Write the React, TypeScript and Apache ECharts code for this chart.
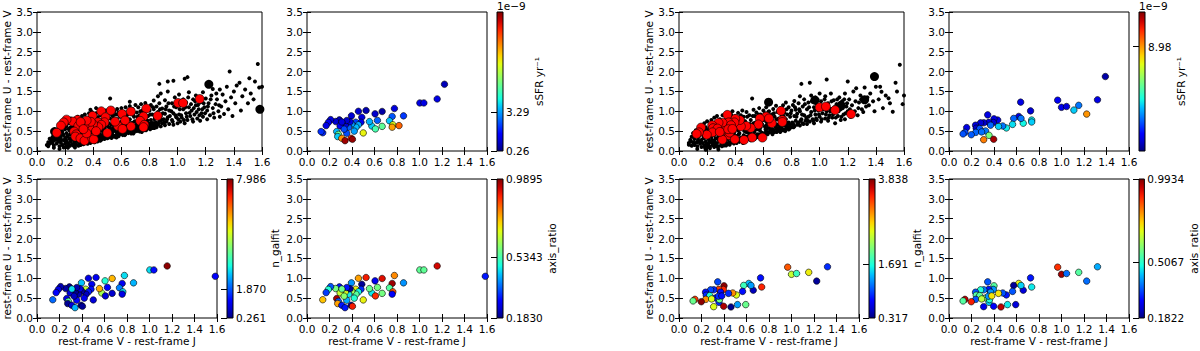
import React, { useEffect, useRef } from 'react';
import * as echarts from 'echarts';

// ---------- DATA ----------
// Sample galaxies, left half: [V-J, U-V, sSFR (1e-9/yr) | null, n_galfit | null, axis_ratio | null, highlighted (1) ]
const leftSample: (number | null)[][] = [
  [1.585, 1.05, null, 1.2, 0.30, 0],
  [1.157, 1.31, 1.3, 7.9, 0.93, 1],
  [1.003, 1.21, 1.3, 2.9, 0.56, 1],
  [1.039, 1.21, 1.3, 1.3, 0.56, 1],
  [0.858, 0.885, 2.2, 2.6, 0.40, 1],
  [0.777, 1.07, 1.2, 2.9, 0.80, 1],
  [0.757, 0.87, 2.5, 1.1, 0.97, 1],
  [0.733, 0.76, 3.7, 2.2, 0.55, 1],
  [0.763, 0.66, 7.0, 2.8, 0.85, 1],
  [0.757, 0.60, 8.3, 1.0, 0.28, 1],
  [0.668, 0.995, 0.6, 5.8, 0.92, 1],
  [0.668, 0.62, 5.3, 0.8, 0.58, 1],
  [0.605, 0.935, 1.0, 3.3, 0.27, 1],
  [0.626, 0.77, 2.6, 1.2, 0.58, 1],
  [0.576, 0.63, 3.8, 4.5, 0.47, 1],
  [0.608, 0.556, 5.0, 0.9, 0.88, 1],
  [0.555, 0.74, 3.5, 5.9, 0.57, 1],
  [0.525, 1.02, 0.7, 1.1, 0.90, 1],
  [0.457, 1.0, 1.0, 1.0, 0.78, 1],
  [0.50, 0.455, 7.2, 0.9, 0.70, 1],
  [0.395, 0.885, 1.1, 2.7, 0.40, 1],
  [0.487, 0.85, 1.2, 1.1, 0.20, 1],
  [0.48, 0.725, 1.4, 1.3, 0.32, 1],
  [0.433, 0.725, 2.3, 4.8, 0.70, 1],
  [0.457, 0.66, 3.4, 1.4, 0.48, 1],
  [0.436, 0.60, 3.6, 0.7, 0.55, 1],
  [0.398, 0.68, 3.2, 0.5, 0.62, 1],
  [0.371, 0.60, 2.6, 0.6, 0.47, 1],
  [0.341, 0.66, 1.3, 0.4, 0.68, 1],
  [0.383, 0.735, 1.2, 1.0, 0.20, 1],
  [0.353, 0.767, 1.0, 0.6, 0.30, 1],
  [0.309, 0.717, 1.1, 1.2, 0.55, 1],
  [0.288, 0.784, 0.8, 0.4, 0.30, 1],
  [0.255, 0.742, 1.0, 0.5, 0.58, 1],
  [0.294, 0.632, 1.5, 0.9, 0.66, 1],
  [0.31, 0.73, 1.2, 2.9, 0.57, 1],
  [0.264, 0.489, 3.6, 1.0, 0.96, 1],
  [0.279, 0.42, 5.4, 3.8, 0.35, 1],
  [0.273, 0.363, 3.8, 0.4, 0.78, 1],
  [0.309, 0.32, 8.5, 0.9, 0.30, 1],
  [0.338, 0.26, 10.8, 2.6, 0.30, 1],
  [0.392, 0.32, 9.8, 0.5, 0.22, 1],
  [0.404, 0.295, 10.9, 0.4, 0.90, 1],
  [0.21, 0.79, 1.2, 0.6, 0.35, 1],
  [0.19, 0.72, 1.4, 1.0, 0.50, 1],
  [0.17, 0.64, 1.3, 1.2, 0.33, 1],
  [0.14, 0.46, 2.0, 2.0, 0.75, 1],
  [0.353, 0.447, 2.4, 1.2, 0.42, 1],
  [0.42, 0.50, 3.3, 1.1, 0.50, 1],
  [0.33, 0.55, 2.4, 0.7, 0.60, 1],
  [1.222, 1.68, 0.8, null, null, 0],
  [0.818, 0.64, 9.0, null, null, 0],
  [0.125, 0.49, 2.1, null, null, 0],
];

const rightSample: (number | null)[][] = [
  [1.39, 1.875, 0.6, null, null, 0],
  [1.32, 1.29, 1.3, 0.9, 0.42, 0],
  [1.224, 0.93, 9.0, 0.4, 0.37, 1],
  [1.153, 1.15, 3.0, 2.6, 0.55, 0],
  [1.11, 1.03, 4.0, null, null, 1],
  [0.966, 1.28, 1.5, 3.2, 0.88, 0],
  [1.0, 1.10, 1.4, 2.4, 0.97, 1],
  [1.045, 1.12, 1.2, 1.8, 0.37, 1],
  [0.725, 1.01, 1.1, 0.8, 0.30, 1],
  [0.637, 1.23, 1.3, null, null, 0],
  [0.62, 0.87, 1.2, 1.4, 0.70, 1],
  [0.735, 0.78, 4.3, 3.4, 0.47, 1],
  [0.735, 0.73, 4.0, null, null, 1],
  [0.66, 0.70, 4.5, 0.5, 0.25, 1],
  [0.64, 0.82, 3.0, 1.3, 0.45, 1],
  [0.575, 0.82, 2.8, 1.8, 0.20, 1],
  [0.565, 0.67, 4.2, 0.8, 0.35, 1],
  [0.51, 0.58, 4.4, 2.5, 0.30, 1],
  [0.478, 0.63, 3.0, 3.0, 0.35, 1],
  [0.44, 0.62, 4.0, 0.9, 0.72, 1],
  [0.433, 0.78, 1.4, null, null, 1],
  [0.40, 0.81, 1.3, 3.8, 0.55, 1],
  [0.394, 0.72, 1.1, 3.4, 0.40, 1],
  [0.344, 0.91, 1.3, 1.0, 0.35, 1],
  [0.353, 0.72, 1.2, 3.3, 0.30, 1],
  [0.31, 0.71, 1.0, 0.9, 0.38, 1],
  [0.37, 0.65, 2.8, 0.8, 0.40, 1],
  [0.325, 0.505, 3.0, 0.8, 0.60, 1],
  [0.356, 0.395, 6.0, 0.9, 0.45, 1],
  [0.397, 0.295, 11.5, 3.7, 0.28, 1],
  [0.308, 0.285, 9.3, 2.5, 0.27, 1],
  [0.281, 0.71, 1.1, 1.0, 0.50, 1],
  [0.236, 0.65, 1.2, 0.8, 0.35, 1],
  [0.242, 0.575, 1.0, 0.9, 0.55, 1],
  [0.273, 0.565, 2.6, 1.7, 0.55, 1],
  [0.238, 0.47, 2.8, 3.0, 0.35, 1],
  [0.198, 0.41, 2.7, 3.8, 0.90, 1],
  [0.157, 0.59, 1.3, null, null, 1],
  [0.142, 0.47, 2.5, 3.3, 0.95, 1],
  [0.125, 0.43, 2.6, 2.0, 0.55, 1],
  [0.29, 0.48, 2.9, 2.5, 0.65, 1],
  [0.52, 0.337, null, 1.3, 0.47, 1],
  [0.593, 0.337, null, 2.0, 0.25, 1],
  [0.462, 0.278, null, 0.35, 0.95, 1],
  [0.36, 0.464, null, 2.0, 0.50, 1],
  [0.35, 0.548, null, 0.9, 0.40, 1],
  [0.38, 0.556, null, 0.8, 0.72, 1],
];

// Parent (field) population, left half: [V-J, U-V]
const leftField: number[][] = [
  [0.07,0.15],[0.08,0.22],[0.09,0.18],[0.09,0.31],[0.10,0.26],[0.08,0.12],
  [0.11,0.20],[0.11,0.35],[0.12,0.14],[0.12,0.42],[0.13,0.28],[0.13,0.50],[0.14,0.19],[0.14,0.37],[0.15,0.24],[0.15,0.55],[0.12,0.08],
  [0.16,0.12],[0.16,0.30],[0.16,0.44],[0.17,0.21],[0.17,0.58],[0.17,0.36],[0.18,0.15],[0.18,0.49],[0.18,0.67],[0.19,0.27],[0.19,0.40],[0.19,0.72],[0.20,0.18],[0.20,0.55],[0.20,0.33],[0.16,0.05],[0.19,0.09],
  [0.21,0.12],[0.21,0.26],[0.21,0.45],[0.21,0.63],[0.22,0.20],[0.22,0.38],[0.22,0.77],[0.23,0.15],[0.23,0.31],[0.23,0.52],[0.23,0.70],[0.24,0.24],[0.24,0.43],[0.24,0.60],[0.24,0.82],[0.25,0.17],[0.25,0.35],[0.25,0.50],[0.22,0.08],
  [0.26,0.13],[0.26,0.28],[0.26,0.45],[0.26,0.66],[0.27,0.21],[0.27,0.38],[0.27,0.57],[0.27,0.80],[0.28,0.16],[0.28,0.32],[0.28,0.50],[0.28,0.72],[0.29,0.25],[0.29,0.42],[0.29,0.62],[0.29,0.86],[0.30,0.19],[0.30,0.35],[0.30,0.54],[0.30,0.77],[0.27,0.09],
  [0.31,0.15],[0.31,0.28],[0.31,0.46],[0.31,0.68],[0.32,0.22],[0.32,0.40],[0.32,0.58],[0.32,0.88],[0.33,0.17],[0.33,0.33],[0.33,0.51],[0.33,0.75],[0.34,0.26],[0.34,0.44],[0.34,0.64],[0.34,0.92],[0.35,0.20],[0.35,0.37],[0.35,0.56],[0.35,0.82],
  [0.36,0.18],[0.36,0.30],[0.36,0.48],[0.36,0.70],[0.37,0.24],[0.37,0.41],[0.37,0.62],[0.37,0.95],[0.38,0.20],[0.38,0.35],[0.38,0.54],[0.38,0.86],[0.39,0.28],[0.39,0.45],[0.39,0.68],[0.39,0.98],[0.40,0.23],[0.40,0.38],[0.40,0.59],[0.40,0.90],[0.38,1.04],[0.42,1.08],
  [0.41,0.22],[0.41,0.33],[0.41,0.50],[0.41,0.76],[0.42,0.27],[0.42,0.44],[0.42,0.64],[0.42,0.95],[0.43,0.24],[0.43,0.37],[0.43,0.56],[0.43,0.85],[0.44,0.30],[0.44,0.48],[0.44,0.70],[0.44,1.00],[0.45,0.26],[0.45,0.41],[0.45,0.61],[0.45,0.90],
  [0.46,0.29],[0.46,0.36],[0.46,0.52],[0.46,0.78],[0.47,0.33],[0.47,0.46],[0.47,0.67],[0.47,0.97],[0.48,0.30],[0.48,0.41],[0.48,0.58],[0.48,0.88],[0.49,0.35],[0.49,0.50],[0.49,0.73],[0.49,1.02],[0.50,0.32],[0.50,0.63],
  [0.51,0.34],[0.51,0.45],[0.51,0.70],[0.51,0.95],[0.52,0.38],[0.52,0.55],[0.52,0.82],[0.52,1.32],[0.53,0.33],[0.53,0.48],[0.53,0.66],[0.53,1.04],[0.54,0.40],[0.54,0.58],[0.54,0.88],[0.55,0.36],[0.55,0.52],[0.55,0.75],[0.55,1.00],
  [0.56,0.39],[0.56,0.62],[0.56,0.92],[0.57,0.44],[0.57,0.55],[0.57,0.80],[0.57,1.06],[0.58,0.37],[0.58,0.50],[0.58,0.70],[0.58,0.97],[0.59,0.42],[0.59,0.60],[0.59,0.86],[0.60,0.46],[0.60,0.74],[0.60,1.08],
  [0.61,0.40],[0.61,0.55],[0.61,0.83],[0.62,0.47],[0.62,0.66],[0.62,0.98],[0.63,0.43],[0.63,0.58],[0.63,0.77],[0.63,1.10],[0.64,0.50],[0.64,0.70],[0.64,0.90],[0.65,0.45],[0.65,0.62],[0.65,1.02],
  [0.66,0.48],[0.66,0.80],[0.66,1.13],[0.67,0.44],[0.67,0.58],[0.67,0.94],[0.68,0.52],[0.68,0.71],[0.68,1.06],[0.69,0.47],[0.69,0.63],[0.69,0.86],[0.70,0.55],[0.70,1.16],[0.66,1.24],
  [0.71,0.50],[0.71,0.68],[0.71,0.97],[0.72,0.58],[0.72,0.80],[0.72,1.10],[0.73,0.49],[0.73,0.64],[0.73,0.90],[0.74,0.54],[0.74,0.75],[0.74,1.18],[0.75,0.60],[0.75,1.02],
  [0.76,0.52],[0.76,0.70],[0.76,0.95],[0.77,0.58],[0.77,0.82],[0.77,1.21],[0.78,0.55],[0.78,0.66],[0.78,1.12],[0.79,0.60],[0.79,0.88],[0.80,0.57],[0.80,1.02],
  [0.81,0.62],[0.81,0.78],[0.81,1.16],[0.82,0.58],[0.82,0.92],[0.83,0.70],[0.83,1.05],[0.83,1.27],[0.84,0.63],[0.84,0.85],[0.85,0.60],[0.85,1.12],
  [0.86,0.66],[0.86,0.98],[0.86,1.38],[0.87,0.75],[0.87,1.20],[0.88,0.62],[0.88,0.88],[0.88,1.45],[0.89,0.70],[0.89,1.07],[0.90,0.80],[0.87,1.69],
  [0.91,0.65],[0.91,0.94],[0.91,1.28],[0.92,0.74],[0.92,1.12],[0.93,0.85],[0.93,1.50],[0.94,0.68],[0.94,1.02],[0.93,1.75],
  [0.96,0.78],[0.96,1.20],[0.97,0.66],[0.97,0.95],[0.97,1.77],[0.98,1.35],[0.99,0.85],[0.99,1.10],[1.00,0.70],
  [1.01,0.92],[1.01,1.42],[1.02,0.74],[1.02,1.15],[1.03,0.84],[1.04,1.05],[1.04,1.30],[1.05,1.82],[1.05,0.70],
  [1.06,0.95],[1.06,1.22],[1.07,0.78],[1.07,1.86],[1.08,1.10],[1.08,1.48],[1.09,0.88],[1.10,1.02],
  [1.11,0.74],[1.11,1.30],[1.12,0.92],[1.13,1.15],[1.13,1.40],[1.14,0.82],[1.15,1.05],
  [1.16,0.76],[1.16,1.22],[1.17,0.95],[1.18,1.48],[1.18,0.86],[1.19,1.10],[1.20,1.32],
  [1.21,0.80],[1.21,1.02],[1.22,1.20],[1.23,0.90],[1.24,1.40],[1.25,1.56],[1.25,1.08],
  [1.26,0.84],[1.27,1.18],[1.28,1.30],[1.29,1.00],[1.30,1.55],[1.30,0.86],
  [1.31,1.12],[1.32,1.42],[1.33,0.93],[1.34,1.25],[1.35,1.62],[1.37,2.00],
  [1.36,1.05],[1.38,1.35],[1.39,0.88],[1.40,1.50],
  [1.41,1.20],[1.42,1.65],[1.44,1.72],[1.45,1.02],
  [1.46,1.38],[1.48,1.55],[1.50,1.20],
  [1.51,1.83],[1.52,1.45],[1.54,1.30],
  [1.55,1.75],[1.57,2.19],[1.58,1.60],[1.60,1.62],
  [0.085,0.20],[0.105,0.30],[0.115,0.25],[0.125,0.33],[0.135,0.40],[0.145,0.30],[0.155,0.38],[0.165,0.52],
  [0.175,0.28],[0.185,0.42],[0.195,0.62],[0.205,0.25],[0.215,0.36],[0.225,0.56],[0.235,0.42],[0.245,0.30],
  [0.255,0.62],[0.265,0.22],[0.275,0.48],[0.285,0.40],[0.295,0.70],[0.305,0.27],[0.315,0.52],[0.325,0.36],
  [0.335,0.62],[0.345,0.30],[0.355,0.48],[0.365,0.60],[0.375,0.33],[0.385,0.75],[0.395,0.52],[0.405,0.30],
  [0.415,0.66],[0.425,0.40],[0.435,0.80],[0.445,0.55],[0.455,0.33],[0.465,0.70],[0.475,0.50],[0.485,0.37],
  [0.495,0.82],[0.505,0.45],[0.515,0.60],[0.525,0.42],[0.535,0.90],[0.545,0.50],[0.555,0.66],[0.565,0.48],
  [0.575,0.92],[0.585,0.62],[0.595,0.52],[0.605,0.95],[0.615,0.70],[0.625,0.53],[0.635,0.66],[0.645,0.80],
  [0.655,0.55],[0.665,0.70],[0.675,0.62],[0.685,0.90],[0.695,0.75],[0.705,0.62],[0.715,0.86],[0.725,0.70],
  [0.735,1.00],[0.745,0.62],[0.755,0.82],[0.765,0.62],[0.775,1.00],[0.785,0.77],[0.795,0.70],[0.805,0.92],
  [0.815,0.68],[0.825,1.10],[0.835,0.80],[0.845,0.72],[0.855,0.95],[0.865,0.70],[0.875,1.05],[0.885,0.78],
  [0.895,0.95],[0.905,0.72],[0.915,1.05],[0.925,0.80],[0.935,1.20],[0.945,0.88],[0.955,1.00],[0.965,0.74],
  [0.975,1.12],[0.985,0.90],[0.995,1.25],[1.005,0.80],[1.015,1.05],[1.025,0.90],[1.035,1.20],[1.045,0.78],
  [1.055,1.10],[1.065,0.86],[1.075,1.35],[1.085,0.96],[1.095,1.18],[1.105,0.80],[1.115,1.08],[1.125,1.25],
  [1.135,0.98],[1.145,1.16],[1.155,0.90],[1.165,1.35],[1.175,1.05],[1.185,1.20],[1.195,0.95],[1.215,1.12],
  [1.235,1.30],[1.255,0.95],[1.275,1.45],[1.295,1.15],
  [0.205,0.10],[0.235,0.13],[0.265,0.17],[0.295,0.13],[0.325,0.19],[0.355,0.24],[0.385,0.26],[0.415,0.29],
  [0.445,0.35],[0.475,0.39],[0.505,0.40],[0.535,0.42],[0.565,0.34],[0.595,0.48],[0.625,0.40],[0.655,0.50],
  [0.685,0.44],[0.715,0.54],[0.745,0.48],[0.775,0.52],[0.805,0.55],[0.835,0.58],
];

// Parent (field) population, right half: [V-J, U-V]
const rightField: number[][] = [
  [0.07,0.16],[0.07,0.20],[0.08,0.28],[0.09,0.13],[0.09,0.36],[0.10,0.22],[0.10,0.45],
  [0.11,0.15],[0.11,0.30],[0.12,0.40],[0.12,0.52],[0.13,0.22],[0.13,0.12],[0.14,0.35],[0.14,0.58],[0.15,0.18],[0.15,0.46],[0.13,0.05],
  [0.16,0.10],[0.16,0.28],[0.16,0.62],[0.17,0.20],[0.17,0.40],[0.17,0.52],[0.18,0.14],[0.18,0.33],[0.18,0.70],[0.19,0.24],[0.19,0.46],[0.19,0.60],[0.20,0.12],[0.20,0.38],[0.20,0.75],[0.19,0.03],
  [0.21,0.18],[0.21,0.30],[0.21,0.54],[0.22,0.11],[0.22,0.42],[0.22,0.66],[0.23,0.22],[0.23,0.35],[0.23,0.78],[0.24,0.15],[0.24,0.48],[0.24,0.60],[0.25,0.26],[0.25,0.40],[0.25,0.84],[0.22,0.07],[0.25,0.10],
  [0.26,0.14],[0.26,0.32],[0.26,0.55],[0.26,0.72],[0.27,0.20],[0.27,0.44],[0.27,0.88],[0.28,0.12],[0.28,0.36],[0.28,0.62],[0.29,0.24],[0.29,0.50],[0.29,0.80],[0.30,0.16],[0.30,0.40],[0.30,0.68],[0.28,0.04],
  [0.31,0.20],[0.31,0.33],[0.31,0.56],[0.31,0.90],[0.32,0.14],[0.32,0.45],[0.32,0.74],[0.33,0.26],[0.33,0.38],[0.33,0.62],[0.34,0.18],[0.34,0.50],[0.34,0.84],[0.35,0.30],[0.35,0.44],[0.35,0.95],
  [0.36,0.16],[0.36,0.36],[0.36,0.58],[0.36,0.78],[0.37,0.22],[0.37,0.48],[0.37,0.92],[0.38,0.28],[0.38,0.66],[0.38,1.00],[0.39,0.19],[0.39,0.42],[0.39,0.55],[0.40,0.25],[0.40,0.72],[0.40,0.88],
  [0.41,0.20],[0.41,0.38],[0.41,0.62],[0.42,0.30],[0.42,0.52],[0.42,0.96],[0.43,0.23],[0.43,0.45],[0.43,0.80],[0.44,0.34],[0.44,0.58],[0.44,0.90],[0.45,0.27],[0.45,0.68],[0.45,1.02],
  [0.46,0.24],[0.46,0.40],[0.46,0.86],[0.47,0.32],[0.47,0.55],[0.47,0.75],[0.48,0.28],[0.48,0.47],[0.48,0.98],[0.49,0.36],[0.49,0.64],[0.50,0.30],[0.50,0.52],[0.50,0.90],
  [0.51,0.27],[0.51,0.44],[0.51,0.78],[0.52,0.34],[0.52,0.60],[0.52,1.32],[0.53,0.40],[0.53,0.70],[0.53,1.04],[0.54,0.31],[0.54,0.52],[0.54,0.88],[0.55,0.38],[0.55,0.64],[0.55,0.97],
  [0.56,0.35],[0.56,0.55],[0.56,0.82],[0.57,0.42],[0.57,0.72],[0.57,1.08],[0.58,0.38],[0.58,0.60],[0.58,0.92],[0.59,0.46],[0.59,0.68],[0.60,0.40],[0.60,0.78],[0.60,1.02],
  [0.61,0.45],[0.61,0.62],[0.61,0.95],[0.62,0.50],[0.62,0.74],[0.62,1.10],[0.63,0.42],[0.63,0.58],[0.63,0.86],[0.64,0.48],[0.64,0.68],[0.64,1.00],[0.65,0.54],[0.65,0.80],
  [0.66,0.46],[0.66,0.64],[0.66,0.92],[0.67,0.52],[0.67,1.06],[0.68,0.48],[0.68,0.72],[0.68,0.86],[0.69,0.56],[0.69,1.14],[0.70,0.50],[0.70,0.66],[0.70,0.98],
  [0.71,0.55],[0.71,0.82],[0.72,0.48],[0.72,0.62],[0.72,1.08],[0.73,0.58],[0.73,0.90],[0.74,0.52],[0.74,0.70],[0.74,1.15],[0.75,0.64],[0.75,0.96],
  [0.76,0.56],[0.76,0.80],[0.76,1.22],[0.77,0.62],[0.77,0.92],[0.78,0.54],[0.78,0.72],[0.78,1.10],[0.79,0.66],[0.79,0.86],[0.80,0.60],[0.80,1.02],
  [0.81,0.70],[0.81,1.16],[0.82,0.62],[0.82,0.88],[0.82,1.26],[0.83,0.76],[0.83,1.04],[0.84,0.66],[0.84,0.94],[0.85,0.72],[0.85,1.20],
  [0.86,0.64],[0.86,1.00],[0.86,1.38],[0.87,0.80],[0.87,1.69],[0.88,0.70],[0.88,1.12],[0.89,0.90],[0.89,1.30],[0.90,0.76],
  [0.91,0.68],[0.91,1.05],[0.92,0.86],[0.92,1.22],[0.93,1.72],[0.93,0.74],[0.94,0.98],[0.94,1.40],[0.95,0.80],
  [0.96,0.70],[0.96,1.10],[0.97,0.92],[0.97,1.35],[0.98,0.78],[0.98,1.18],[0.99,1.02],[1.00,0.86],[1.00,1.45],
  [1.01,0.74],[1.01,1.25],[1.02,0.95],[1.03,1.12],[1.04,0.82],[1.04,1.38],[1.05,1.80],[1.05,1.00],
  [1.06,0.76],[1.06,1.20],[1.07,0.90],[1.08,1.06],[1.08,1.45],[1.09,0.84],[1.10,1.28],
  [1.11,0.70],[1.11,0.98],[1.12,1.18],[1.13,0.88],[1.14,1.35],[1.15,1.05],[1.15,0.78],
  [1.16,1.25],[1.17,0.92],[1.18,1.45],[1.18,0.80],[1.19,1.12],[1.20,1.75],[1.20,1.00],
  [1.21,1.30],[1.22,0.86],[1.23,1.15],[1.24,1.50],[1.25,1.00],
  [1.26,1.58],[1.27,0.90],[1.28,1.22],[1.29,1.40],[1.30,1.05],
  [1.31,0.98],[1.32,1.60],[1.33,1.12],[1.34,1.35],[1.35,1.15],
  [1.36,1.45],[1.38,1.25],[1.39,1.00],[1.40,1.62],
  [1.42,1.30],[1.43,1.62],[1.44,1.49],[1.45,1.08],
  [1.47,1.40],[1.49,1.33],[1.50,1.20],
  [1.52,0.99],[1.54,1.72],[1.55,1.50],
  [1.57,2.17],[1.59,1.18],[1.60,1.40],
  [0.085,0.24],[0.105,0.35],[0.115,0.20],[0.125,0.46],[0.135,0.28],[0.145,0.52],[0.155,0.25],[0.165,0.45],
  [0.175,0.33],[0.185,0.55],[0.195,0.18],[0.205,0.48],[0.215,0.25],[0.225,0.60],[0.235,0.28],[0.245,0.70],
  [0.255,0.20],[0.265,0.45],[0.275,0.30],[0.285,0.75],[0.295,0.42],[0.305,0.22],[0.315,0.62],[0.325,0.30],
  [0.335,0.80],[0.345,0.40],[0.355,0.22],[0.365,0.66],[0.375,0.35],[0.385,0.85],[0.395,0.48],[0.405,0.32],
  [0.415,0.80],[0.425,0.42],[0.435,0.66],[0.445,0.28],[0.455,0.76],[0.465,0.50],[0.475,0.36],[0.485,0.86],
  [0.495,0.45],[0.505,0.68],[0.515,0.36],[0.525,0.88],[0.535,0.48],[0.545,0.72],[0.555,0.42],[0.565,0.92],
  [0.575,0.52],[0.585,0.76],[0.595,0.44],[0.605,0.88],[0.615,0.55],[0.625,0.66],[0.635,0.98],[0.645,0.58],
  [0.655,0.72],[0.665,0.54],[0.675,0.95],[0.685,0.62],[0.695,0.80],[0.705,0.58],[0.715,1.02],[0.725,0.68],
  [0.735,0.55],[0.745,0.86],[0.755,0.66],[0.765,1.05],[0.775,0.70],[0.785,0.60],[0.795,0.95],[0.805,0.72],
  [0.815,0.64],[0.825,1.10],[0.835,0.86],[0.845,0.70],[0.855,1.05],[0.865,0.76],[0.875,0.92],[0.885,0.68],
  [0.895,1.18],[0.905,0.84],[0.915,0.76],[0.925,1.10],[0.935,0.90],[0.945,1.25],[0.955,0.76],[0.965,1.02],
  [0.975,0.82],[0.985,1.30],[0.995,0.92],[1.005,1.15],[1.015,0.80],[1.025,1.05],[1.035,1.30],[1.045,0.92],
  [1.055,1.15],[1.065,0.84],[1.075,1.00],[1.085,1.25],[1.095,0.92],[1.105,1.10],[1.115,0.84],[1.125,1.30],
  [1.135,1.00],[1.145,1.20],[1.155,0.86],[1.165,1.08],[1.175,1.30],[1.185,0.95],[1.195,1.20],[1.215,1.05],
  [1.235,0.92],[1.255,1.25],[1.275,1.08],[1.295,1.30],
  [0.185,0.08],[0.215,0.12],[0.245,0.18],[0.275,0.10],[0.305,0.12],[0.335,0.14],[0.365,0.20],[0.395,0.23],
  [0.425,0.26],[0.455,0.20],[0.485,0.32],[0.515,0.30],[0.545,0.36],[0.575,0.34],[0.605,0.42],[0.635,0.46],
  [0.665,0.42],[0.695,0.48],[0.725,0.52],[0.755,0.50],[0.785,0.56],[0.815,0.60],
];

// Colour-bar ranges and tick values
const leftSSFRRange = [0.26, 11.1];
const leftSSFRTicks = [0.26, 3.29];
const rightSSFRRange = [0.2, 11.88];
const rightSSFRTicks = [8.98];
const leftNRange = [0.261, 7.986];
const leftNTicks = [0.261, 1.87, 7.986];
const rightNRange = [0.317, 3.838];
const rightNTicks = [0.317, 1.691, 3.838];
const leftQRange = [0.183, 0.9895];
const leftQTicks = [0.183, 0.5343, 0.9895];
const rightQRange = [0.1822, 0.9934];
const rightQTicks = [0.1822, 0.5067, 0.9934];

const jet = ['#000080', '#0000c8', '#0000ff', '#0040ff', '#0080ff', '#00bfff', '#15ffe2', '#48ffaf',
  '#7bff7b', '#afff48', '#e2ff14', '#ffd200', '#ff9700', '#ff5c00', '#ff2100', '#c80000', '#800000'];

// ---------- LAYOUT ----------
const FONT = 'DejaVu Sans';
const FS = 10.5;
const TOP_ROW = 12;
const BOTTOM_ROW = 179;
const PH = 139;
const txt = { fontFamily: FONT, fontSize: FS, color: '#000' };

function buildOption() {
  const grids: any[] = [];
  const xAxes: any[] = [];
  const yAxes: any[] = [];
  const series: any[] = [];
  const visualMaps: any[] = [];
  const graphics: any[] = [];

  const tickStyle = { inside: true, length: 4, lineStyle: { color: '#000', width: 1 } };

  function addPanel(left: number, top: number, width: number, xlab: boolean, ylab: boolean) {
    const gi = grids.length;
    grids.push({ left, top, width, height: PH, show: true, borderColor: '#000', borderWidth: 1, backgroundColor: '#fff' });
    const xi = xAxes.length;
    xAxes.push({
      gridIndex: gi, type: 'value', min: 0, max: 1.6, interval: 0.2, position: 'bottom',
      axisLine: { show: false }, axisTick: tickStyle, splitLine: { show: false },
      axisLabel: { ...txt, margin: 5, formatter: (v: number) => v.toFixed(1) },
      name: xlab ? 'rest-frame V - rest-frame J' : '', nameLocation: 'middle', nameGap: 17, nameTextStyle: txt,
    });
    xAxes.push({
      gridIndex: gi, type: 'value', min: 0, max: 1.6, interval: 0.2, position: 'top',
      axisLine: { show: false }, axisTick: tickStyle, splitLine: { show: false }, axisLabel: { show: false },
    });
    const yi = yAxes.length;
    yAxes.push({
      gridIndex: gi, type: 'value', min: 0, max: 3.5, interval: 0.5, position: 'left',
      axisLine: { show: false }, axisTick: tickStyle, splitLine: { show: false },
      axisLabel: { ...txt, margin: 4, formatter: (v: number) => v.toFixed(1) },
      name: ylab ? 'rest-frame U - rest-frame V' : '', nameLocation: 'middle', nameGap: 21, nameTextStyle: txt,
    });
    yAxes.push({
      gridIndex: gi, type: 'value', min: 0, max: 3.5, interval: 0.5, position: 'right',
      axisLine: { show: false }, axisTick: tickStyle, splitLine: { show: false }, axisLabel: { show: false },
    });
    return { xi, yi };
  }

  function addColorbar(left: number, top: number, range: number[], ticks: number[], decimals: number,
    name: string, nameGap: number, offsetText: boolean) {
    const gi = grids.length;
    grids.push({
      left, top, width: 6, height: PH, show: true, borderColor: '#000', borderWidth: 1,
      backgroundColor: new echarts.graphic.LinearGradient(0, 1, 0, 0,
        jet.map((c, i) => ({ offset: i / (jet.length - 1), color: c }))),
    });
    xAxes.push({ gridIndex: gi, type: 'value', min: 0, max: 1, show: false });
    yAxes.push({
      gridIndex: gi, type: 'value', min: range[0], max: range[1], position: 'right', z: 10,
      axisLine: { show: false }, splitLine: { show: false },
      axisTick: { show: true, inside: true, length: 6, customValues: ticks, lineStyle: { color: '#000', width: 1 } },
      axisLabel: { ...txt, margin: 3, customValues: ticks, formatter: (v: number) => v.toFixed(decimals) },
      name, nameLocation: 'middle', nameRotate: 90, nameGap, nameTextStyle: txt,
    });
    if (offsetText) {
      graphics.push({ type: 'text', left: left, top: 0, style: { text: '1e\u22129', font: `${FS}px "${FONT}"`, fill: '#000' } });
    }
  }

  function colorSeries(ax: { xi: number; yi: number }, data: number[][], range: number[]) {
    const si = series.length;
    series.push({
      type: 'scatter', xAxisIndex: ax.xi, yAxisIndex: ax.yi, data, symbolSize: 6.5, clip: true, silent: true,
      itemStyle: { borderColor: '#000', borderWidth: 0.6, opacity: 1 },
    });
    visualMaps.push({
      type: 'continuous', show: false, seriesIndex: si, dimension: 2, min: range[0], max: range[1],
      inRange: { color: jet },
    });
  }

  function overviewPanel(ax: { xi: number; yi: number }, field: number[][], sample: (number | null)[][]) {
    series.push({
      type: 'scatter', xAxisIndex: ax.xi, yAxisIndex: ax.yi, data: field, symbolSize: 4, clip: true, silent: true,
      itemStyle: { color: '#000', opacity: 1 },
    });
    series.push({
      type: 'scatter', xAxisIndex: ax.xi, yAxisIndex: ax.yi,
      data: sample.filter((r) => r[5] === 0).map((r) => [r[0], r[1]]), symbolSize: 9, clip: true, silent: true,
      itemStyle: { color: '#000', opacity: 1 },
    });
    series.push({
      type: 'scatter', xAxisIndex: ax.xi, yAxisIndex: ax.yi,
      data: sample.filter((r) => r[5] === 1).map((r) => [r[0], r[1]]), symbolSize: 9, clip: true, silent: true,
      itemStyle: { color: '#ff0000', borderColor: '#000', borderWidth: 0.6, opacity: 1 },
    });
  }

  const pick = (sample: (number | null)[][], col: number) =>
    sample.filter((r) => r[col] !== null).map((r) => [r[0] as number, r[1] as number, r[col] as number]);

  // Left half
  const p1 = addPanel(37, TOP_ROW, 225, false, true);
  overviewPanel(p1, leftField, leftSample);
  const p2 = addPanel(307, TOP_ROW, 180, false, false);
  colorSeries(p2, pick(leftSample, 2), leftSSFRRange);
  addColorbar(497, TOP_ROW, leftSSFRRange, leftSSFRTicks, 2, 'sSFR yr\u207b\u00b9', 29, true);
  const p3 = addPanel(37, BOTTOM_ROW, 180, true, true);
  colorSeries(p3, pick(leftSample, 3), leftNRange);
  addColorbar(227, BOTTOM_ROW, leftNRange, leftNTicks, 3, 'n_galfit', 36, false);
  const p4 = addPanel(307, BOTTOM_ROW, 180, true, false);
  colorSeries(p4, pick(leftSample, 4), leftQRange);
  addColorbar(497, BOTTOM_ROW, leftQRange, leftQTicks, 4, 'axis_ratio', 43, false);

  // Right half
  const p5 = addPanel(679, TOP_ROW, 225, false, true);
  overviewPanel(p5, rightField, rightSample);
  const p6 = addPanel(949, TOP_ROW, 180, false, false);
  colorSeries(p6, pick(rightSample, 2), rightSSFRRange);
  addColorbar(1139, TOP_ROW, rightSSFRRange, rightSSFRTicks, 2, 'sSFR yr\u207b\u00b9', 29, true);
  const p7 = addPanel(679, BOTTOM_ROW, 180, true, true);
  colorSeries(p7, pick(rightSample, 3), rightNRange);
  addColorbar(869, BOTTOM_ROW, rightNRange, rightNTicks, 3, 'n_galfit', 34, false);
  const p8 = addPanel(949, BOTTOM_ROW, 180, true, false);
  colorSeries(p8, pick(rightSample, 4), rightQRange);
  addColorbar(1139, BOTTOM_ROW, rightQRange, rightQTicks, 4, 'axis_ratio', 41, false);

  return {
    animation: false,
    backgroundColor: '#fff',
    textStyle: { fontFamily: FONT },
    grid: grids,
    xAxis: xAxes,
    yAxis: yAxes,
    visualMap: visualMaps,
    series,
    graphic: graphics,
  };
}

export default function App() {
  const ref = useRef<HTMLDivElement>(null);
  useEffect(() => {
    if (!ref.current) return;
    const chart = echarts.init(ref.current, undefined, { renderer: 'svg' });
    chart.setOption(buildOption() as any);
    return () => chart.dispose();
  }, []);
  return (
    <div
      ref={ref}
      style={{ position: 'fixed', left: 0, top: 0, width: 1200, height: 351, background: '#fff' }}
    />
  );
}
